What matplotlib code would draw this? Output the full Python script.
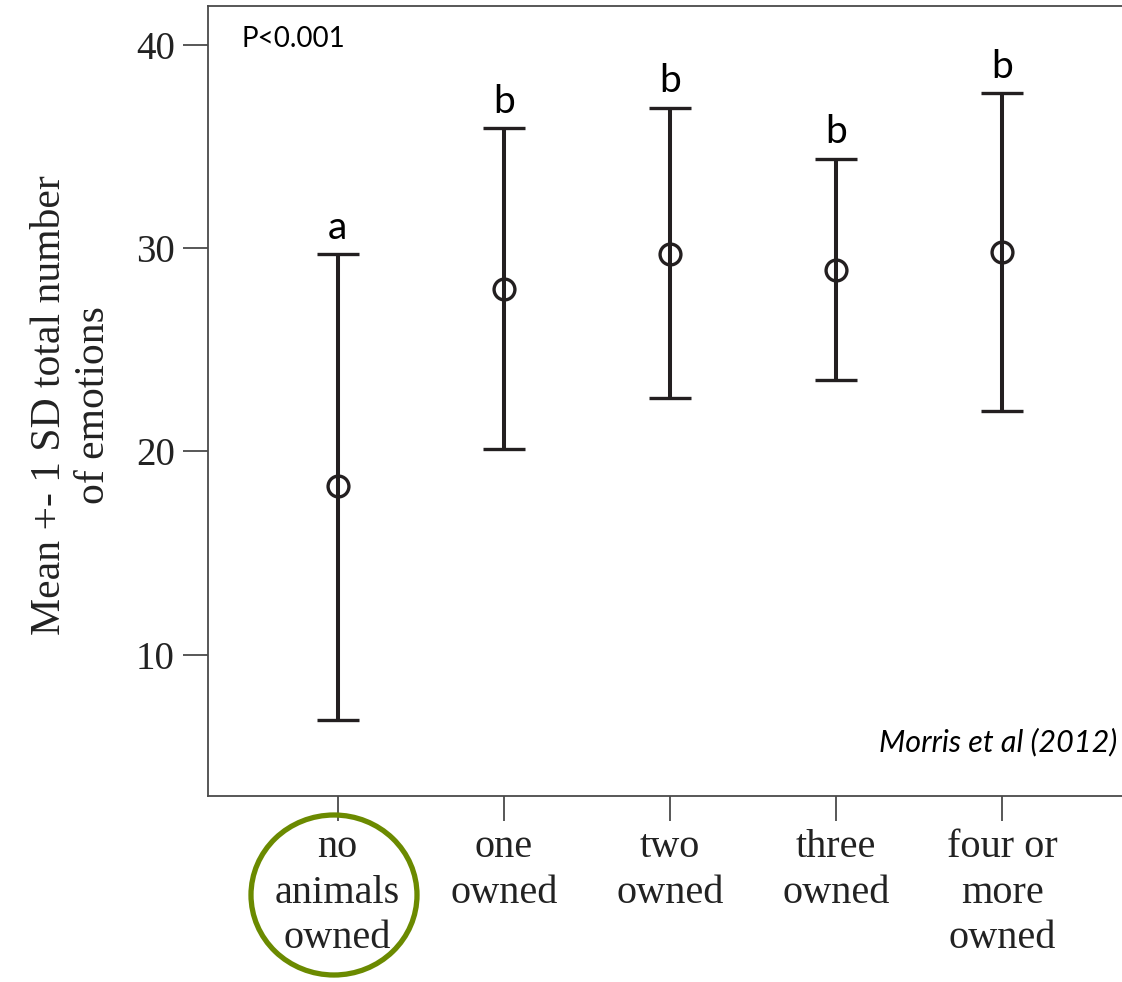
import matplotlib.pyplot as plt
from matplotlib.patches import Ellipse

# data (mean and the -1 SD / +1 SD ends)
groups = ["no\nanimals\nowned", "one\nowned", "two\nowned", "three\nowned", "four or\nmore\nowned"]
means = [18.3, 28.0, 29.7, 28.9, 29.8]
lower = [6.8, 20.1, 22.6, 23.5, 22.0]
upper = [29.7, 35.9, 36.9, 34.4, 37.6]
letters = ["a", "b", "b", "b", "b"]
yticks = [10, 20, 30, 40]

serif = ["Liberation Serif", "DejaVu Serif"]
sans = ["Lato", "DejaVu Sans"]
ink = "#231f20"
frame = "#4a4a4a"

fig = plt.figure(figsize=(11.22, 9.82), dpi=100)
ax = fig.add_axes([208 / 1122, 1 - 796 / 982, 1 - 208 / 1122, 790 / 982])

x = list(range(len(groups)))
err = [[m - lo for m, lo in zip(means, lower)], [hi - m for m, hi in zip(means, upper)]]
ax.errorbar(x, means, yerr=err, fmt="o", color=ink, ecolor=ink, elinewidth=2.9,
            capsize=15, capthick=2.9, markersize=15, markerfacecolor="none",
            markeredgewidth=2.4, markeredgecolor=ink)

for xi, hi, lab in zip(x, upper, letters):
    ax.annotate(lab, (xi, hi), xytext=(0, 6), textcoords="offset points",
                ha="center", va="bottom", fontsize=28, family=sans, color="black")

ax.set_xlim(-0.78, 4.72)
ax.set_ylim(3.05, 41.9)
ax.set_yticks(yticks)
ax.set_yticklabels([str(t) for t in yticks], family=serif, fontsize=28, color="#222222")
ax.set_xticks(x)
ax.set_xticklabels(groups, family=serif, fontsize=29, color="#222222", linespacing=1.3)
ax.tick_params(axis="both", direction="out", length=18, width=1.3, color=frame, pad=6)

for side in ["left", "bottom", "top"]:
    ax.spines[side].set_color(frame)
    ax.spines[side].set_linewidth(1.3)
ax.spines["right"].set_visible(False)

ax.text(0.037, 0.975, "P<0.001", transform=ax.transAxes, ha="left", va="top",
        fontsize=20, family=sans)
ax.text(0.995, 0.05, "Morris et al (2012)", transform=ax.transAxes, ha="right",
        va="bottom", fontsize=22, family=sans, style="italic")

fig.text(72 / 1122, 1 - 405 / 982, "Mean +- 1 SD total number\nof emotions", rotation=90,
         ha="center", va="center", fontsize=30, family=serif, color="#222222",
         linespacing=1.2)

# green ring around the first category label
ring = Ellipse((334 / 1122, 1 - 895 / 982), 166 / 1122, 160 / 982, transform=fig.transFigure,
               fill=False, edgecolor="#6b8a00", linewidth=3.8)
fig.patches.append(ring)

fig.savefig("out.png", dpi=100)
